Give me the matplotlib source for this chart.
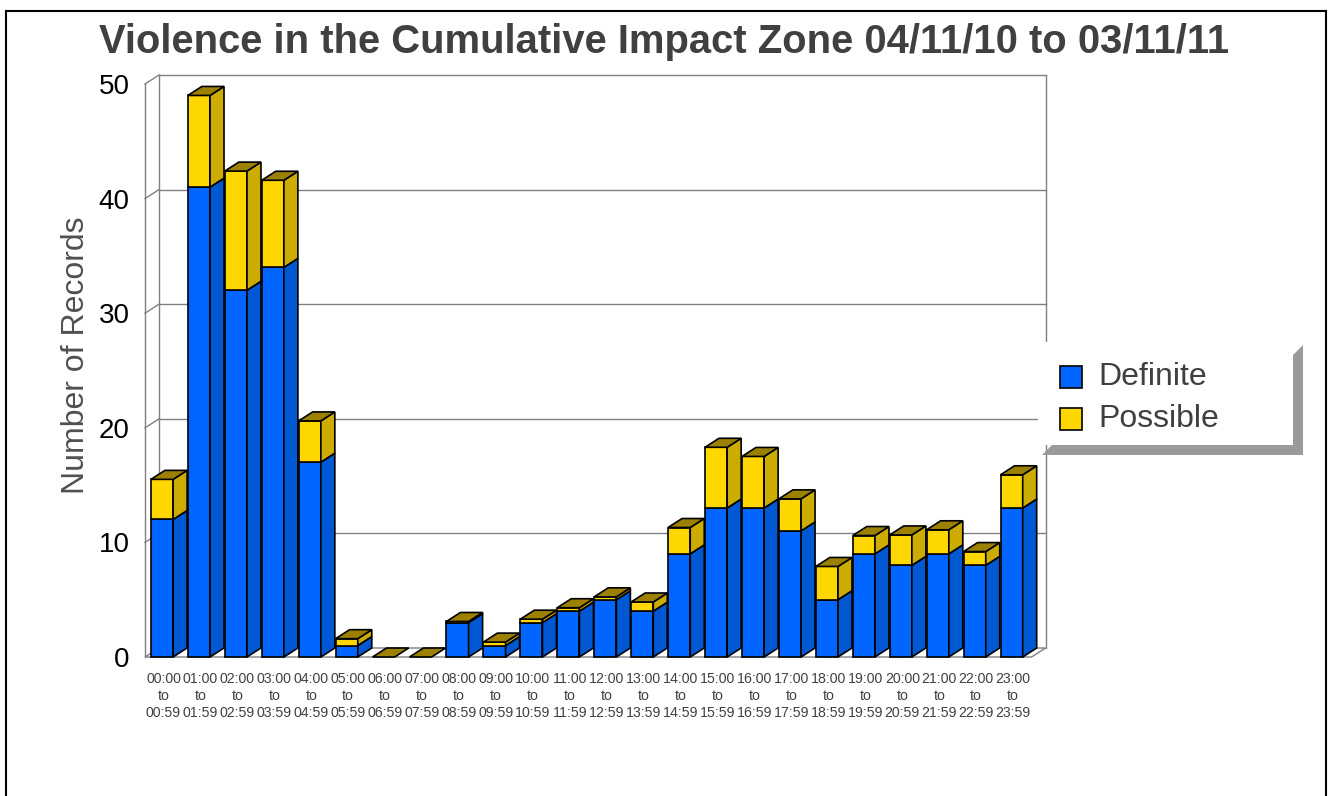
import numpy as np
import matplotlib
matplotlib.use("Agg")
from matplotlib import pyplot as plt
from matplotlib.patches import Polygon
from matplotlib.lines import Line2D

plt.rcParams['font.family'] = ['Liberation Sans', 'DejaVu Sans']

hours = ["%02d" % h for h in range(24)]
definite = [12, 41, 32, 34, 17, 1, 0, 0, 3, 1, 3, 4, 5, 4, 9, 13, 13, 11, 5, 9, 8, 9, 8, 13]
possible = [3.5, 8, 10.4, 7.6, 3.6, 0.6, 0, 0, 0.1, 0.3, 0.3, 0.3, 0.25, 0.8,
            2.3, 5.3, 4.5, 2.8, 2.9, 1.6, 2.65, 2.1, 1.2, 2.9]
xlabels = ["%s:00\nto\n%s:59" % (h, h) for h in hours]
yticks = [0, 10, 20, 30, 40, 50]

W, H = 1329, 796
fig = plt.figure(figsize=(W / 100, H / 100), dpi=100)

def fx(px):
    return px / W

def fy(py):
    return 1 - py / H

# front plane of the 3d box, in pixels
left, right, bottom, top = 145, 145 + 24 * 36.94, 657, 84
ax = fig.add_axes([fx(left), fy(bottom), fx(right - left), (bottom - top) / H])
ax.set_xlim(0, 24)
ax.set_ylim(0, 50)
for s in ax.spines.values():
    s.set_visible(False)

dx = 14 / 36.94            # depth offset in slot units
dy = 9 / ((bottom - top) / 50.0)   # depth offset in value units
gcol = '#808080'

# floor
ax.add_patch(Polygon([(0, 0), (24, 0), (24 + dx, dy), (dx, dy)], closed=True,
                     facecolor='white', edgecolor=gcol, lw=1, clip_on=False, zorder=1))
# walls + grid
for v in yticks[1:]:
    ax.add_line(Line2D([dx, 24 + dx], [v + dy, v + dy], color=gcol, lw=1, clip_on=False, zorder=1))
    ax.add_line(Line2D([0, dx], [v, v + dy], color=gcol, lw=1, clip_on=False, zorder=1))
ax.add_line(Line2D([0, 0], [0, 50], color=gcol, lw=1, clip_on=False, zorder=1))
ax.add_line(Line2D([dx, dx], [dy, 50 + dy], color=gcol, lw=1, clip_on=False, zorder=1))
ax.add_line(Line2D([24 + dx, 24 + dx], [dy, 50 + dy], color=gcol, lw=1, clip_on=False, zorder=1))

blue_f, blue_s = '#0066FF', '#0058D2'
yel_f, yel_s, yel_t = '#FFD700', '#CCAC00', '#9C8000'
ek = dict(edgecolor='black', lw=1.2, clip_on=False, zorder=3, joinstyle='miter')

for i in range(24):
    x0 = i + 0.16
    x1 = x0 + 0.6
    d = definite[i]
    t = d + possible[i]
    if d > 0:
        ax.add_patch(Polygon([(x0, 0), (x1, 0), (x1, d), (x0, d)], facecolor=blue_f, **ek))
        ax.add_patch(Polygon([(x1, 0), (x1 + dx, dy), (x1 + dx, d + dy), (x1, d)], facecolor=blue_s, **ek))
    if t > d:
        ax.add_patch(Polygon([(x0, d), (x1, d), (x1, t), (x0, t)], facecolor=yel_f, **ek))
        ax.add_patch(Polygon([(x1, d), (x1 + dx, d + dy), (x1 + dx, t + dy), (x1, t)], facecolor=yel_s, **ek))
    ax.add_patch(Polygon([(x0, t), (x0 + dx, t + dy), (x1 + dx, t + dy), (x1, t)], facecolor=yel_t, **ek))

ax.set_yticks(yticks)
ax.set_yticklabels([str(v) for v in yticks], fontsize=20, color='black')
ax.set_xticks(np.arange(24) + 0.5)
ax.set_xticklabels(xlabels, fontsize=10.2, color='#404040', linespacing=1.27)
ax.tick_params(axis='y', length=0, pad=11)
ax.tick_params(axis='x', length=0, pad=11)

fig.text(0.4996, fy(42), "Violence in the Cumulative Impact Zone 04/11/10 to 03/11/11",
         ha='center', va='center', fontsize=28.8, fontweight='bold', color='#404040')
fig.text(fx(76), fy(355), "Number of Records", rotation=90, ha='center', va='center',
         fontsize=23, color='#505050')

# legend with bevelled shadow
shadow = [(1293, 355), (1303, 345), (1303, 455), (1042, 455), (1052, 445), (1293, 445)]
fig.patches.append(Polygon([(fx(a), fy(b)) for a, b in shadow], closed=True,
                           transform=fig.transFigure, facecolor='#9a9a9a', edgecolor='none', zorder=5))
box = [(1038, 342), (1293, 342), (1293, 445), (1038, 445)]
fig.patches.append(Polygon([(fx(a), fy(b)) for a, b in box], closed=True,
                           transform=fig.transFigure, facecolor='white', edgecolor='none', zorder=5))
for (name, col, yc) in [("Definite", blue_f, 377), ("Possible", yel_f, 419)]:
    sq = [(1060, yc - 11), (1082, yc - 11), (1082, yc + 11), (1060, yc + 11)]
    fig.patches.append(Polygon([(fx(a), fy(b)) for a, b in sq], closed=True,
                               transform=fig.transFigure, facecolor=col, edgecolor='black',
                               lw=1.2, zorder=6))
    fig.text(fx(1098), fy(yc), name, ha='left', va='center', fontsize=23, color='#404040', zorder=7)

# outer frame
for xs, ys in [([6, 6], [796, 11]), ([6, 1326], [11, 11]), ([1326, 1326], [11, 796])]:
    fig.add_artist(Line2D([fx(a) for a in xs], [fy(b) for b in ys], color='black', lw=1.5))

fig.savefig("out.png", dpi=100, facecolor='white')
